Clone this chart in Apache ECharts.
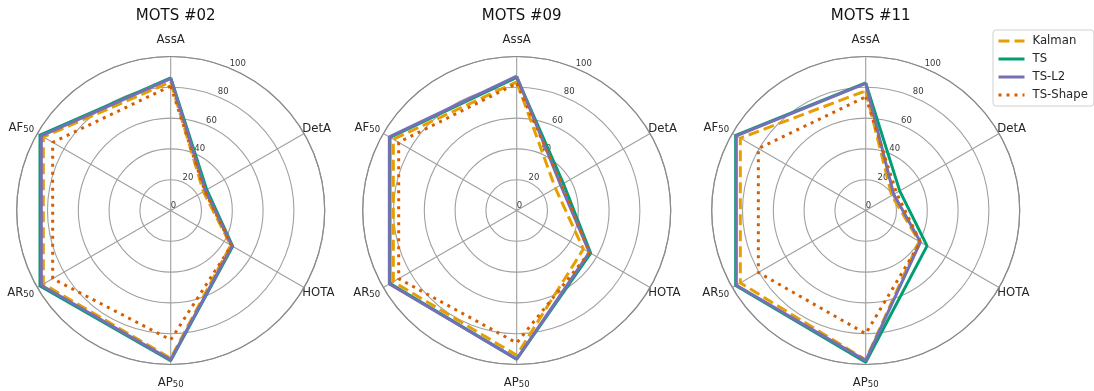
<!DOCTYPE html>
<html>
<head>
<meta charset="utf-8">
<script src="https://cdn.jsdelivr.net/npm/echarts@6/dist/echarts.min.js"></script>
<style>
  html, body { margin: 0; padding: 0; background: #ffffff; }
  #chart { width: 1094px; height: 391px; }
</style>
</head>
<body>
<div id="chart"></div>
<script>
// ---- data -------------------------------------------------------------
const panelTitles = ['MOTS #02', 'MOTS #09', 'MOTS #11'];
const categories = ['AssA', 'DetA', 'HOTA', 'AP50', 'AR50', 'AF50'];
const radialTicks = [0, 20, 40, 60, 80, 100];
const methods = ['Kalman', 'TS', 'TS-L2', 'TS-Shape'];

// values per method, in category order (AssA, DetA, HOTA, AP50, AR50, AF50)
const kalman02  = [83.5, 24.5, 45.0, 96.0, 95.5, 95.5];
const ts02      = [86.2, 27.0, 46.5, 97.5, 98.0, 98.0];
const tsL2_02   = [85.7, 26.0, 46.0, 97.0, 97.0, 97.0];
const tsShape02 = [80.8, 25.5, 45.5, 84.0, 88.5, 88.5];

const kalman09  = [83.5, 29.0, 50.0, 94.0, 92.5, 92.5];
const ts09      = [86.4, 35.0, 55.5, 96.5, 95.0, 95.0];
const tsL2_09   = [87.2, 33.0, 54.5, 96.5, 95.5, 95.5];
const tsShape09 = [82.5, 34.0, 54.5, 86.0, 88.5, 88.5];

const kalman11  = [77.7, 19.5, 40.0, 97.0, 94.0, 94.0];
const ts11      = [82.9, 25.5, 46.0, 98.5, 97.5, 97.5];
const tsL2_11   = [82.5, 21.0, 41.0, 97.5, 97.0, 97.0];
const tsShape11 = [73.8, 23.0, 41.0, 80.0, 80.5, 80.5];

const panelValues = [
  [kalman02, ts02, tsL2_02, tsShape02],
  [kalman09, ts09, tsL2_09, tsShape09],
  [kalman11, ts11, tsL2_11, tsShape11]
];

// ---- layout & style ---------------------------------------------------
const FONT = 'DejaVu Sans';
const panelCenters = [[170.7, 210.5], [516.7, 210.5], [865.7, 210.5]];
const RADIUS = 154;
const methodColors = ['#E69F00', '#009E73', '#7570B3', '#D55E00'];
const methodDash = [[11, 5], 'solid', 'solid', [3, 5]];
const GRID = '#a0a0a0';
// which rich style each spoke label uses (t = top, r = right, b = bottom, l = left)
const labelSide = ['t', 'r', 'r', 'b', 'l', 'l'];

const mainFont = { fontFamily: FONT, fontSize: 11.7, color: '#262626', verticalAlign: 'bottom' };
const subFont  = { fontFamily: FONT, fontSize: 8.5,  color: '#262626', verticalAlign: 'bottom' };
const labelRich = {
  t:  Object.assign({}, mainFont, { padding: [0, 0, 13, 0] }),
  r:  Object.assign({}, mainFont),
  b:  Object.assign({}, mainFont, { padding: [14, 0, 1, 0] }),
  l:  Object.assign({}, mainFont, { padding: [0, 0, 1, 0] }),
  st: Object.assign({}, subFont),
  sr: Object.assign({}, subFont),
  sb: Object.assign({}, subFont),
  sl: Object.assign({}, subFont, { padding: [0, 5, 0, 0] })
};

function categoryLabel(value) {
  const name = categories[value];
  if (name === undefined) return '';
  const side = labelSide[value];
  const m = name.match(/^(.*?)(\d+)$/);
  if (m) return '{' + side + '|' + m[1] + '}{s' + side + '|' + m[2] + '}';
  return '{' + side + '|' + name + '}';
}

function closedLoop(values) {
  const pts = values.map((v, k) => [v, k]);
  pts.push([values[0], categories.length]);
  return pts;
}

const polar = [], angleAxis = [], radiusAxis = [], series = [], title = [];

panelCenters.forEach((c, p) => {
  // polar 2p: spokes, rings, spoke labels and the data polygons
  polar.push({ center: c, radius: RADIUS });
  angleAxis.push({
    polarIndex: 2 * p,
    type: 'value', min: 0, max: categories.length, interval: 1,
    startAngle: 90, clockwise: true,
    axisLine: { show: true, lineStyle: { color: '#8a8a8a', width: 1.2 } },
    axisTick: { show: false },
    splitLine: { show: true, lineStyle: { color: GRID, width: 1.1 } },
    axisLabel: { show: true, margin: -2, formatter: categoryLabel, rich: labelRich }
  });
  radiusAxis.push({
    polarIndex: 2 * p,
    type: 'value', min: radialTicks[0], max: radialTicks[radialTicks.length - 1],
    interval: radialTicks[1] - radialTicks[0],
    axisLine: { show: false }, axisTick: { show: false }, axisLabel: { show: false },
    splitLine: { show: true, lineStyle: { color: GRID, width: 1.1 } }
  });

  // polar 2p+1: radial tick labels along the 22.5° direction
  polar.push({ center: c, radius: RADIUS });
  angleAxis.push({
    polarIndex: 2 * p + 1,
    type: 'value', min: 0, max: 360, startAngle: 67.5,
    axisLine: { show: false }, axisTick: { show: false },
    axisLabel: { show: false }, splitLine: { show: false }
  });
  radiusAxis.push({
    polarIndex: 2 * p + 1,
    type: 'value', min: radialTicks[0], max: radialTicks[radialTicks.length - 1],
    interval: radialTicks[1] - radialTicks[0],
    axisLine: { show: false }, axisTick: { show: false }, splitLine: { show: false },
    axisLabel: {
      show: true, margin: 0, align: 'left', verticalAlign: 'bottom',
      fontFamily: FONT, fontSize: 8.5, color: '#3a3a3a'
    }
  });

  title.push({
    text: panelTitles[p], left: c[0], top: 4, textAlign: 'center',
    textStyle: { fontFamily: FONT, fontSize: 15, fontWeight: 'normal', color: '#111' }
  });

  methods.forEach((name, j) => {
    series.push({
      type: 'line', name: name,
      coordinateSystem: 'polar', polarIndex: 2 * p,
      data: closedLoop(panelValues[p][j]),
      symbol: 'none', z: 3 + j,
      itemStyle: { color: methodColors[j] },
      lineStyle: { color: methodColors[j], width: 3, type: methodDash[j], cap: 'butt' }
    });
  });
});

const chart = echarts.init(document.getElementById('chart'), null, { renderer: 'canvas' });
chart.setOption({
  animation: false,
  backgroundColor: '#ffffff',
  title: title,
  polar: polar,
  angleAxis: angleAxis,
  radiusAxis: radiusAxis,
  legend: {
    data: methods,
    orient: 'vertical',
    left: 993, top: 30,
    itemWidth: 26, itemHeight: 14, itemGap: 6,
    padding: [5, 6, 5, 4],
    itemStyle: { opacity: 0 },
    lineStyle: { width: 3 },
    borderColor: '#d0d0d0', borderWidth: 1, borderRadius: 3,
    textStyle: { fontFamily: FONT, fontSize: 11.7, color: '#262626', padding: [0, 0, 0, 3] }
  },
  series: series
});
</script>
</body>
</html>
